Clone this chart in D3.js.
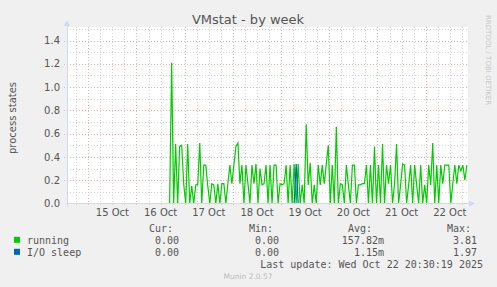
<!DOCTYPE html>
<html><head><meta charset="utf-8">
<script src="https://cdn.jsdelivr.net/npm/d3@7"></script>
<style>body{margin:0;background:#F0F0F0;} svg{display:block;}</style>
</head><body><svg id="c" width="497" height="287"></svg>
<script>
const title = "VMstat - by week";
const yLabel = "process states";
const sideText = "RRDTOOL / TOBI OETIKER";
const seriesNames = ["running", "I/O sleep"];
const seriesColors = ["#00CC00", "#0066B3"];
const dayLabels = ["15 Oct", "16 Oct", "17 Oct", "18 Oct", "19 Oct", "20 Oct", "21 Oct", "22 Oct"];
const dayDates = [15, 16, 17, 18, 19, 20, 21, 22];
const yTickLabels = ["0.0", "0.2", "0.4", "0.6", "0.8", "1.0", "1.2", "1.4"];
const yTicks = [0, 0.2, 0.4, 0.6, 0.8, 1.0, 1.2, 1.4];
const legendHeaders = ["Cur:", "Min:", "Avg:", "Max:"];
const legendCur = ["0.00", "0.00"];
const legendMin = ["0.00", "0.00"];
const legendAvg = ["157.82m", "1.15m"];
const legendMax = ["3.81", "1.97"];
const lastUpdate = "Last update: Wed Oct 22 20:30:19 2025";
const version = "Munin 2.0.57";

// hourly samples starting Oct 16 16:30
const dataStart = new Date(2025, 9, 16, 16, 30);
const running = [
  0, 1.21, 0, 0.51, 0, 0.49, 0.5, 0.17, 0, 0.51, 0, 0.15, 0, 0.16, 0.16, 0.52, 0, 0.33, 0.33, 0.15, 0, 0.17, 0.16,
  0, 0.17, 0, 0.17, 0.17, 0, 0.17, 0.33, 0.17, 0.33, 0.49, 0.52, 0.17, 0.33, 0, 0.33, 0.17, 0, 0.33, 0.17, 0.34, 0, 0.3, 0.16,
  0.17, 0.33, 0, 0.33, 0, 0.33, 0.33, 0, 0.17, 0.16, 0.17, 0.33, 0, 0.33, 0, 0.34, 0, 0.34, 0, 0.16, 0, 0.68, 0.16, 0.35,
  0, 0.16, 0, 0.33, 0.16, 0.33, 0.17, 0.34, 0.5, 0, 0.33, 0, 0.66, 0, 0.17, 0.16, 0, 0.33, 0.16, 0, 0.33, 0.33, 0, 0.16,
  0.16, 0.17, 0.17, 0.33, 0, 0.33, 0, 0.49, 0, 0.33, 0, 0.51, 0, 0.33, 0.17, 0.33, 0, 0.17, 0.51, 0, 0.16, 0.34, 0.33, 0, 0.16,
  0.33, 0, 0.33, 0.16, 0, 0.33, 0, 0.16, 0, 0.33, 0.16, 0.52, 0, 0.33, 0, 0.33, 0.17, 0.33, 0.33, 0.33, 0, 0.17, 0.33, 0.17, 0.33, 0.28, 0.33, 0.2, 0.33
];
const ioSleep = [
  0, 0, 0, 0, 0, 0, 0, 0, 0, 0, 0, 0, 0, 0, 0, 0, 0, 0, 0, 0, 0, 0, 0,
  0, 0, 0, 0, 0, 0, 0, 0, 0, 0, 0, 0, 0, 0, 0, 0, 0, 0, 0, 0, 0, 0, 0, 0,
  0, 0, 0, 0, 0, 0, 0, 0, 0, 0, 0, 0, 0, 0, 0, 0, 0.34, 0, 0, 0, 0, 0, 0, 0,
  0, 0, 0, 0, 0, 0, 0, 0, 0, 0, 0, 0, 0, 0, 0, 0, 0, 0, 0, 0, 0, 0, 0, 0,
  0, 0, 0, 0, 0, 0, 0, 0, 0, 0, 0, 0, 0, 0, 0, 0, 0, 0, 0, 0, 0, 0, 0, 0, 0,
  0, 0, 0, 0, 0, 0, 0, 0, 0, 0, 0, 0, 0, 0, 0, 0, 0, 0, 0, 0, 0, 0, 0, 0, 0, 0, 0, 0, 0
];

const svg = d3.select("#c");
const L = 67, R = 467, T = 27, B = 203.5;
const x = d3.scaleTime()
  .domain([new Date(2025, 9, 14, 13, 24), new Date(2025, 9, 22, 20, 34)])
  .range([L, R]);
const y = d3.scaleLinear().domain([0, 1.5]).range([B, 28.9]);
const px = v => Math.round(v) + 0.5;

svg.append("rect").attr("width", 497).attr("height", 287).attr("fill", "#F0F0F0");
svg.append("rect").attr("x", L).attr("y", T).attr("width", R - L + 1).attr("height", B - T).attr("fill", "#FFFFFF");

const grid = svg.append("g").attr("shape-rendering", "crispEdges");
const majorCol = "#EFB4B4", minorCol = "#D6D6D6";
// horizontal grid
d3.range(1, 16).forEach(k => {
  const v = k / 10;
  const major = k % 2 === 0;
  grid.append("line")
    .attr("x1", major ? L - 3 : L).attr("x2", R)
    .attr("y1", px(y(v))).attr("y2", px(y(v)))
    .attr("stroke", major ? majorCol : minorCol)
    .attr("stroke-dasharray", "1,2");
});
// vertical grid
const hours = d3.timeHour.every(6).range(x.domain()[0], x.domain()[1]);
hours.forEach(d => {
  const major = d.getHours() === 0;
  grid.append("line")
    .attr("x1", px(x(d))).attr("x2", px(x(d)))
    .attr("y1", T).attr("y2", B + 3)
    .attr("stroke", major ? majorCol : minorCol)
    .attr("stroke-dasharray", "1,2");
});

// data
const times = running.map((_, i) => d3.timeHour.offset(dataStart, i));
const line = d3.line().x((d, i) => x(times[i])).y(d => y(d));
svg.append("path").datum(running).attr("d", line)
  .attr("fill", "none").attr("stroke", seriesColors[0]).attr("stroke-width", 1.2);
svg.append("path").datum(ioSleep).attr("d", line)
  .attr("fill", "none").attr("stroke", seriesColors[1]).attr("stroke-width", 1.2);

// axes
const axisCol = "#CFD6F8";
svg.append("line").attr("x1", L - 0.5).attr("x2", 470).attr("y1", B).attr("y2", B)
  .attr("stroke", axisCol).attr("stroke-width", 1);
svg.append("line").attr("x1", px(L - 0.5)).attr("x2", px(L - 0.5)).attr("y1", B + 3).attr("y2", 24)
  .attr("stroke", axisCol).attr("stroke-width", 1);
svg.append("path").attr("d", `M${L - 0.5 - 3},26 L${L},20.5 L${L + 3},26 Z`).attr("fill", axisCol);
svg.append("path").attr("d", `M469,${B - 3} L475,${B} L469,${B + 3} Z`).attr("fill", axisCol);

const font = "DejaVu Sans, sans-serif";
const mono = "DejaVu Sans Mono, monospace";
// y tick labels
yTicks.forEach((v, i) => {
  svg.append("text").attr("x", 60).attr("y", y(v) + 3.6)
    .attr("text-anchor", "end").attr("font-family", font).attr("font-size", 10)
    .attr("fill", "#555").text(yTickLabels[i]);
});
// x labels at noon
dayDates.forEach((d, i) => {
  svg.append("text").attr("x", x(new Date(2025, 9, d, 12))).attr("y", 216)
    .attr("text-anchor", "middle").attr("font-family", font).attr("font-size", 10)
    .attr("fill", "#555").text(dayLabels[i]);
});

svg.append("text").attr("x", 248).attr("y", 23.5).attr("text-anchor", "middle")
  .attr("font-family", font).attr("font-size", 13).attr("fill", "#555").text(title);
svg.append("text").attr("transform", "translate(15.5,118) rotate(-90)").attr("text-anchor", "middle")
  .attr("font-family", font).attr("font-size", 10).attr("fill", "#555").text(yLabel);
svg.append("text").attr("transform", "translate(485.5,15) rotate(90)").attr("text-anchor", "start")
  .attr("font-family", font).attr("font-size", 7).attr("fill", "#C8C8C8").text(sideText);

// legend
const colEnds = [179, 279, 384, 477];
const headX = [149, 249, 348, 447];
legendHeaders.forEach((h, i) => {
  svg.append("text").attr("x", headX[i]).attr("y", 232).attr("font-family", mono)
    .attr("font-size", 10).attr("fill", "#555").text(h);
});
const cols = [legendCur, legendMin, legendAvg, legendMax];
seriesNames.forEach((n, r) => {
  const by = 243.8 + r * 12;
  svg.append("rect").attr("x", 14).attr("y", by - 7).attr("width", 6).attr("height", 6)
    .attr("fill", seriesColors[r]);
  svg.append("text").attr("x", 27).attr("y", by).attr("font-family", mono)
    .attr("font-size", 10).attr("fill", "#555").text(n);
  cols.forEach((c, j) => {
    svg.append("text").attr("x", colEnds[j]).attr("y", by).attr("text-anchor", "end")
      .attr("font-family", mono).attr("font-size", 10).attr("fill", "#555").text(c[r]);
  });
});
svg.append("text").attr("x", 483).attr("y", 267.5).attr("text-anchor", "end").attr("font-family", mono)
  .attr("font-size", 10).attr("fill", "#555").text(lastUpdate);
svg.append("text").attr("x", 248).attr("y", 279).attr("text-anchor", "middle").attr("font-family", font)
  .attr("font-size", 7.5).attr("fill", "#BBBBBB").text(version);
</script></body></html>
